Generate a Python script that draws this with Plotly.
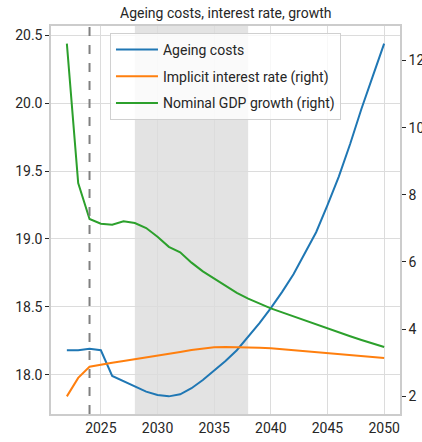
import plotly.graph_objects as go

years = list(range(2022, 2051))

ageing_costs = [18.18, 18.18, 18.19, 18.18, 17.99, 17.95, 17.91, 17.875, 17.85, 17.84,
                17.855, 17.90, 17.96, 18.03, 18.10, 18.18, 18.28, 18.38, 18.49, 18.61,
                18.74, 18.89, 19.05, 19.25, 19.46, 19.70, 19.96, 20.20, 20.44]

interest_rate = [2.00, 2.55, 2.88, 2.95, 3.00, 3.05, 3.10, 3.15, 3.20, 3.26,
                 3.32, 3.38, 3.43, 3.46, 3.47, 3.47, 3.46, 3.45, 3.43, 3.40,
                 3.37, 3.35, 3.32, 3.30, 3.27, 3.24, 3.21, 3.18, 3.14]

gdp_growth = [12.50, 8.35, 7.28, 7.14, 7.11, 7.21, 7.16, 7.01, 6.75, 6.45,
              6.29, 5.98, 5.72, 5.50, 5.28, 5.08, 4.91, 4.76, 4.62, 4.50,
              4.38, 4.26, 4.13, 4.01, 3.90, 3.79, 3.68, 3.57, 3.47]

x_ticks = [2025, 2030, 2035, 2040, 2045, 2050]
left_ticks = [18.0, 18.5, 19.0, 19.5, 20.0, 20.5]
right_ticks = [2, 4, 6, 8, 10, 12]

base_year = 2024
window = (2028, 2038)


def padded(lo, hi, frac=0.05):
    pad = (hi - lo) * frac
    return [lo - pad, hi + pad]


FONT = "Roboto"
TEXT = "#262626"
GRID = "#dcdcdc"
SPINE = "#cccccc"

fig = go.Figure()
fig.add_trace(go.Scatter(x=years, y=ageing_costs, mode="lines", name="Ageing costs",
                         line=dict(color="#1f77b4", width=2), legendgroup="a"))
fig.add_trace(go.Scatter(x=years, y=interest_rate, mode="lines",
                         name="Implicit interest rate (right)", yaxis="y2",
                         line=dict(color="#ff7f0e", width=2), legendgroup="b"))
fig.add_trace(go.Scatter(x=years, y=gdp_growth, mode="lines",
                         name="Nominal GDP growth (right)", yaxis="y2",
                         line=dict(color="#2ca02c", width=2), legendgroup="c"))

fig.add_vrect(x0=window[0], x1=window[1], fillcolor="#e3e3e3", opacity=1,
              line_width=0, layer="below")
fig.add_vline(x=base_year, line=dict(color="#808080", width=2, dash="dash"))

fig.update_layout(
    width=422, height=442,
    margin=dict(l=51, r=22, t=26, b=28),
    paper_bgcolor="white", plot_bgcolor="white",
    font=dict(family=FONT, size=14, color=TEXT),
    title=dict(text="Ageing costs, interest rate, growth", x=0.535, xanchor="center",
               y=0.970, yanchor="middle", font=dict(size=14, color=TEXT)),
    xaxis=dict(range=padded(min(years), max(years)), tickvals=x_ticks,
               showgrid=True, gridcolor=GRID, gridwidth=1, zeroline=False,
               showline=True, linecolor=SPINE, linewidth=1.5, mirror=True,
               ticks="", tickfont=dict(size=14, color=TEXT), automargin=False),
    yaxis=dict(range=padded(min(ageing_costs), max(ageing_costs)), tickvals=left_ticks,
               ticktext=[f"{v:.1f}" for v in left_ticks],
               showgrid=True, gridcolor=GRID, gridwidth=1, zeroline=False,
               showline=True, linecolor=SPINE, linewidth=1.5,
               ticks="outside", ticklen=4, tickcolor=TEXT, tickwidth=1,
               tickfont=dict(size=14, color=TEXT), automargin=False),
    yaxis2=dict(range=padded(min(interest_rate + gdp_growth), max(interest_rate + gdp_growth)),
                tickvals=right_ticks, overlaying="y", side="right",
                showgrid=False, zeroline=False, showline=True, linecolor=SPINE,
                linewidth=1.5, ticks="outside", ticklen=4, tickcolor=TEXT, tickwidth=1,
                tickfont=dict(size=14, color=TEXT), automargin=False),
    legend=dict(x=0.169, y=0.982, xanchor="left", yanchor="top",
                bgcolor="rgba(255,255,255,0.8)", bordercolor="#d0d0d0", borderwidth=1,
                font=dict(size=14, color=TEXT), traceorder="grouped", tracegroupgap=5.5,
                itemwidth=42),
    showlegend=True,
)

fig.write_html("out.html")
